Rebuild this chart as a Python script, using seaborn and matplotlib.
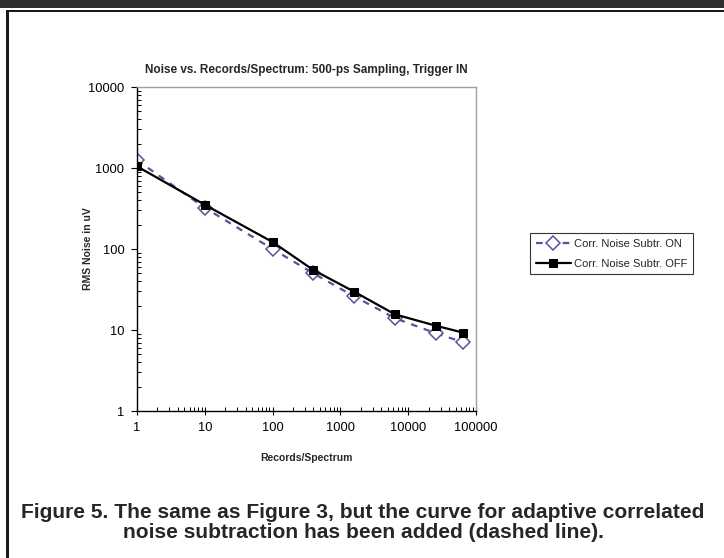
import numpy as np
import pandas as pd
import seaborn as sns
import matplotlib.pyplot as plt
from matplotlib.patches import Rectangle

# datos
records = [1, 10, 100, 400, 1600, 6400, 25600, 64000]
noise_on = [1250, 323, 100, 50, 26, 14, 9.1, 7.1]
noise_off = [1050, 352, 122, 55, 29.7, 15.6, 11.3, 9.3]

titulo = "Noise vs. Records/Spectrum: 500-ps Sampling, Trigger IN"
lbl_on = "Corr. Noise Subtr. ON"
lbl_off = "Corr. Noise Subtr. OFF"
caption = ("Figure 5. The same as Figure 3, but the curve for adaptive correlated\n"
           "noise subtraction has been added (dashed line).")

df = pd.DataFrame({"records": records, "on": noise_on, "off": noise_off})

sns.set_style("white")
plt.rcParams['font.family'] = ['Liberation Sans', 'DejaVu Sans']

fig = plt.figure(figsize=(7.24, 5.58), dpi=100)
ax = fig.add_axes([0.1892, 0.2634, 0.4683, 0.5806])

sns.lineplot(data=df, x="records", y="on", ax=ax, color="#55559a", linestyle=(0, (3, 3)),
             linewidth=1.6, marker="D", markersize=7, markerfacecolor="white",
             markeredgecolor="#55559a", markeredgewidth=1.1, label=lbl_on)
sns.lineplot(data=df, x="records", y="off", ax=ax, color="black", linestyle="-",
             linewidth=1.6, marker="s", markersize=5.5, markerfacecolor="black",
             markeredgecolor="black", label=lbl_off)

ax.set_xscale("log")
ax.set_yscale("log")
ax.set_xlim(1, 100000)
ax.set_ylim(1, 10000)
ax.set_xticks([1, 10, 100, 1000, 10000, 100000])
ax.set_xticklabels(["1", "10", "100", "1000", "10000", "100000"])
ax.set_yticks([1, 10, 100, 1000, 10000])
ax.set_yticklabels(["1", "10", "100", "1000", "10000"])
ax.minorticks_on()
ax.tick_params(axis="x", which="major", direction="inout", length=6, width=0.8,
               labelsize=9.3, colors="black", pad=5, bottom=True)
ax.tick_params(axis="y", which="major", direction="out", length=4, width=0.8,
               labelsize=9.3, colors="black", pad=5, left=True)
ax.tick_params(axis="both", which="minor", direction="in", length=3, width=0.7,
               colors="black", bottom=True, left=True)
ax.set_xlabel("")
ax.set_ylabel("")

for s in ["left", "bottom"]:
    ax.spines[s].set_color("black")
    ax.spines[s].set_linewidth(1.0)
for s in ["top", "right"]:
    ax.spines[s].set_color("#a0a0a0")
    ax.spines[s].set_linewidth(1.0)

leg = ax.legend(loc="upper left", bbox_to_anchor=(0.732, 0.582), bbox_transform=fig.transFigure,
                frameon=True, fancybox=False, fontsize=8, handlelength=3.2,
                borderpad=0.5, labelspacing=0.9, borderaxespad=0, handletextpad=0.3)
leg.get_frame().set_edgecolor("black")
leg.get_frame().set_linewidth(0.8)

fig.text(0.4227, 0.874, titulo, ha="center", va="center", fontsize=8.5, fontweight="bold")
fig.text(0.1215, 0.554, "RMS Noise in uV", ha="center", va="center", rotation=90,
         fontsize=7.5, fontweight="bold")
fig.text(0.4227, 0.179, "Records/Spectrum", ha="center", va="center", fontsize=7.5, fontweight="bold")
fig.text(0.5014, 0.0635, caption, ha="center", va="center", fontsize=15.1, fontweight="bold",
         linespacing=1.02)

# marco
fig.add_artist(Rectangle((0, 1 - 8 / 558), 1, 8 / 558, transform=fig.transFigure,
                         facecolor="#2e2e2e", edgecolor="none"))
fig.add_artist(Rectangle((6 / 724, 1 - 12 / 558), 1, 2.5 / 558, transform=fig.transFigure,
                         facecolor="#1a1a1a", edgecolor="none"))
fig.add_artist(Rectangle((6 / 724, 0), 2.5 / 724, 1 - 9.5 / 558, transform=fig.transFigure,
                         facecolor="#1a1a1a", edgecolor="none"))

fig.savefig("out.png", dpi=100)
